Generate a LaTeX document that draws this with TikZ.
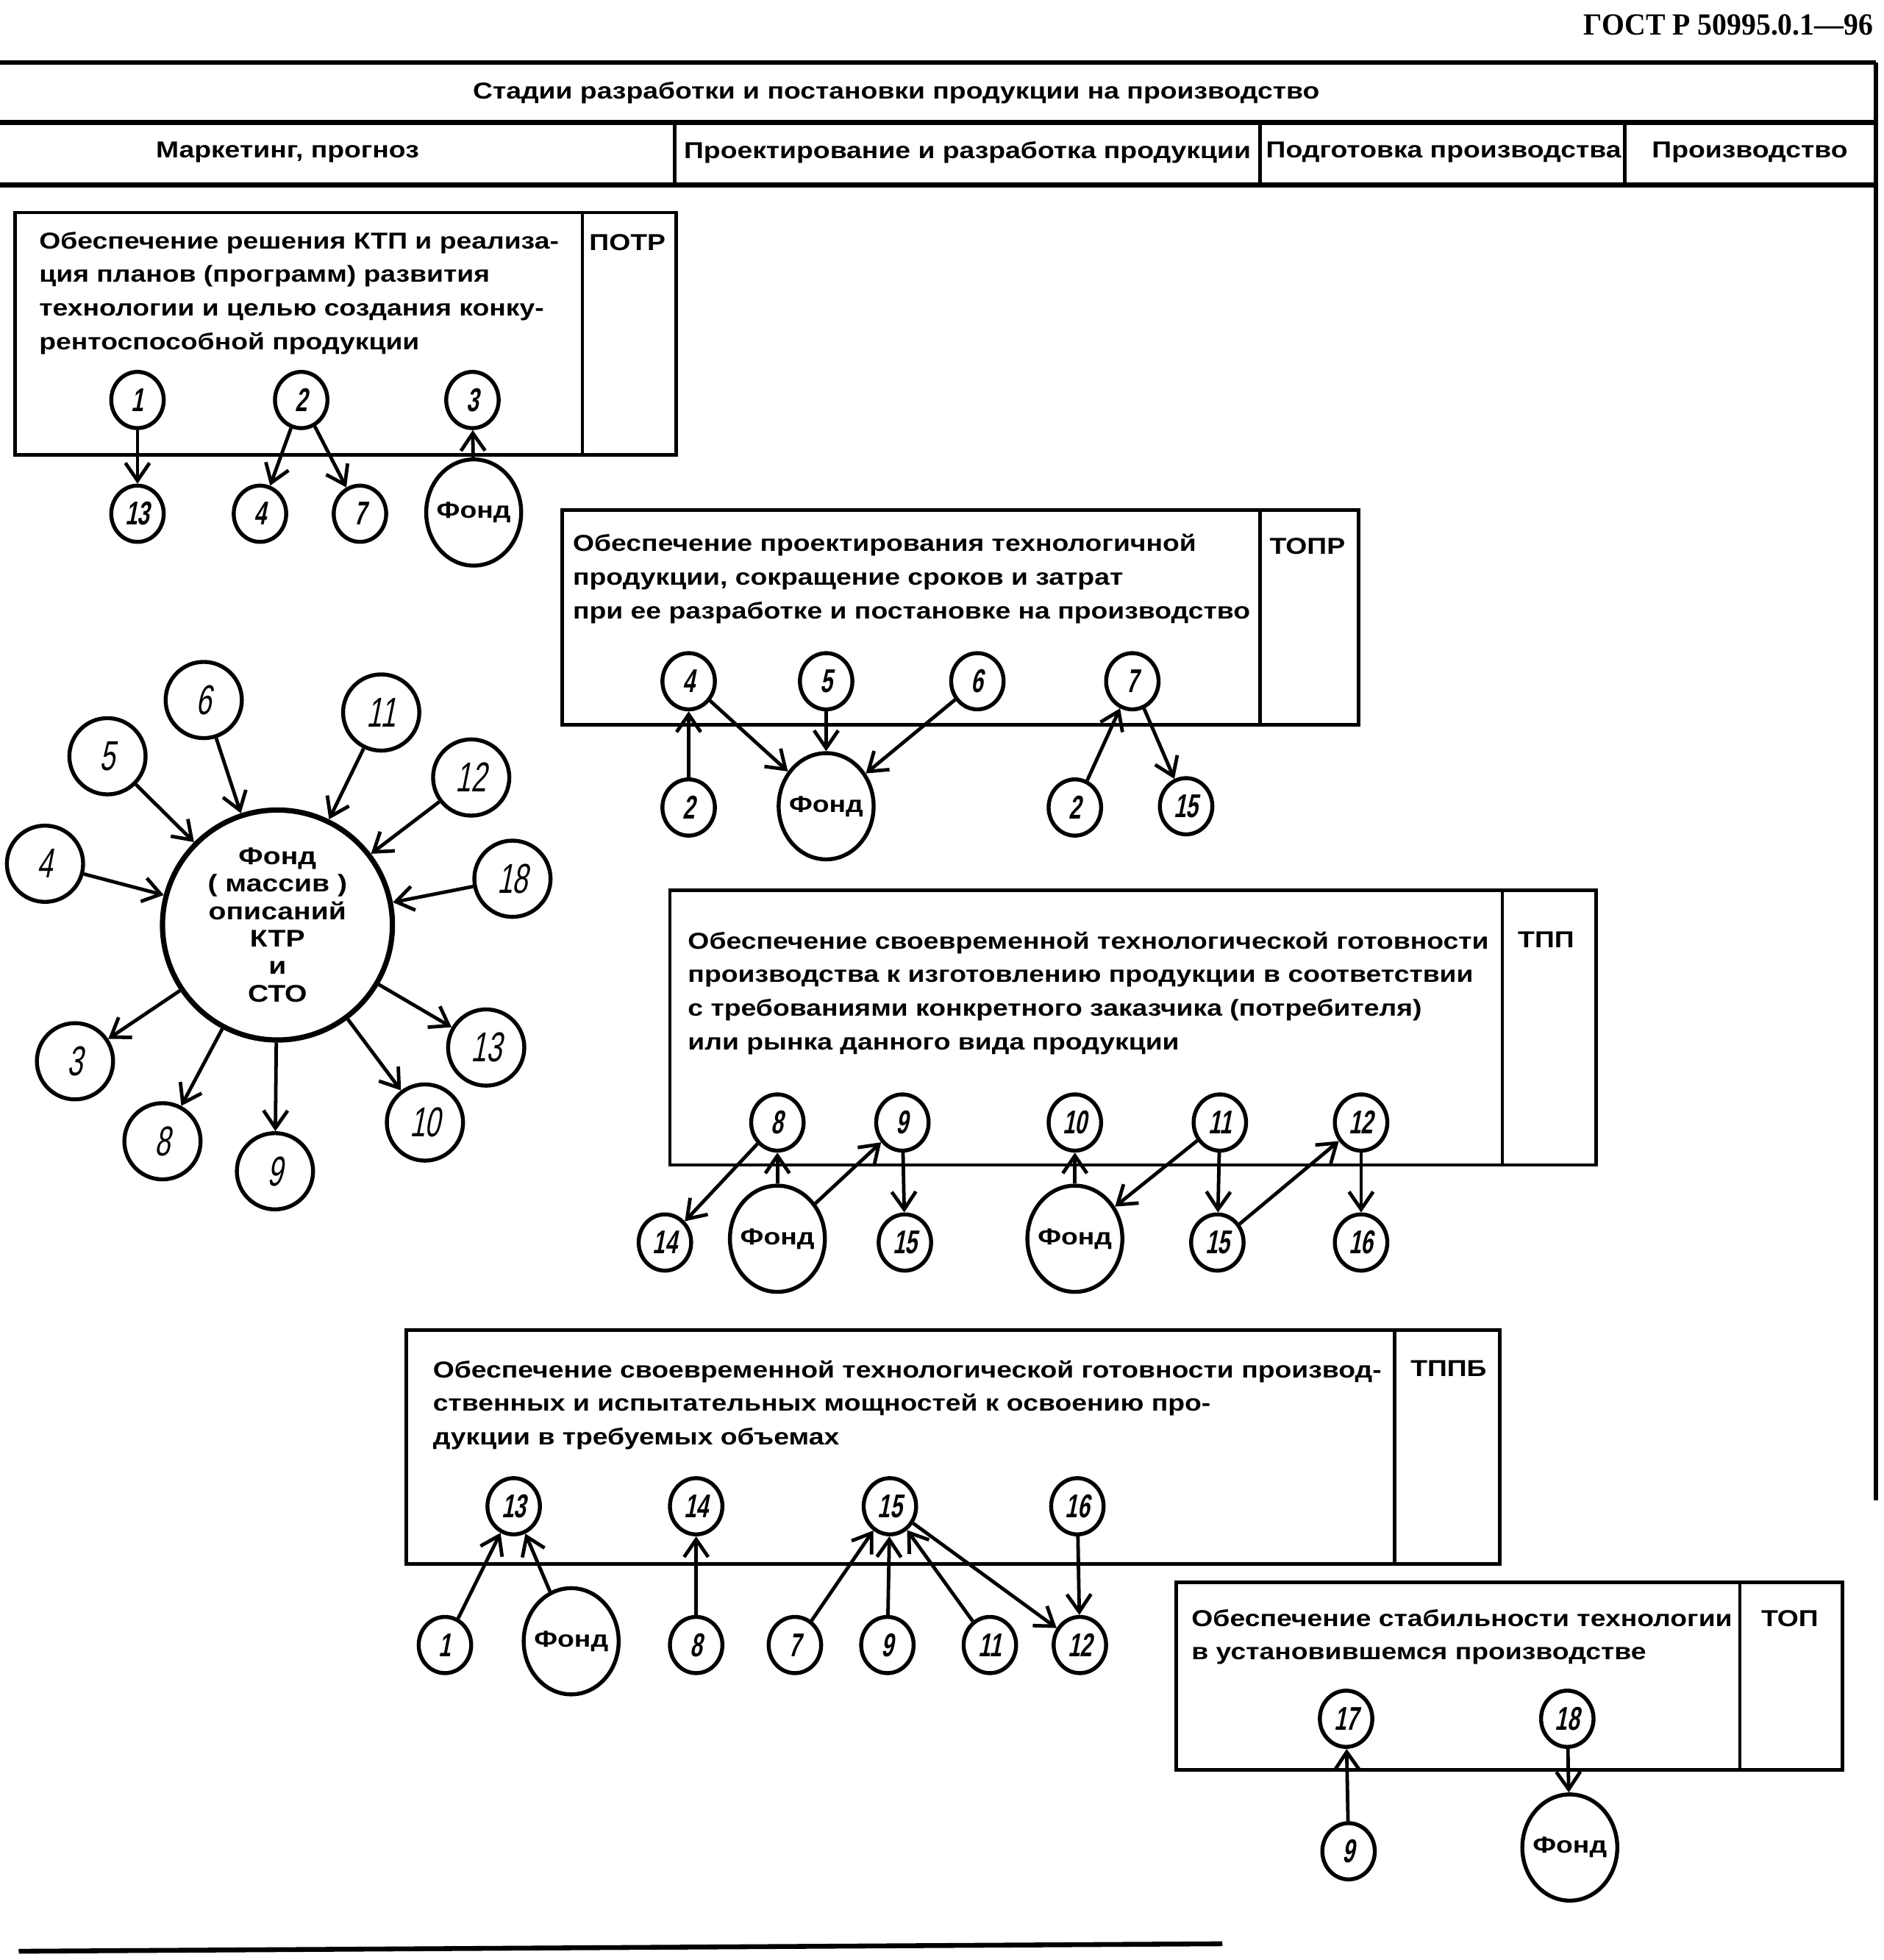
\documentclass[tikz,border=0pt]{standalone}
\usepackage{fontspec}
\setmainfont[FakeStretch=1.19]{Liberation Sans}
\newfontfamily\numfont[FakeStretch=0.66,FakeSlant=0.2]{Liberation Sans}
\newfontfamily\gostfont[FakeStretch=0.95]{Liberation Serif}
\usetikzlibrary{arrows.meta,shapes.geometric}
\begin{document}
\begin{tikzpicture}[x=0.02cm,y=-0.02cm,line width=1.6pt,
  every node/.style={inner sep=0pt},
  txt/.style={anchor=north west,align=left,font=\bfseries\fontsize{10.5}{15.3}\selectfont},
  tag/.style={font=\bfseries\fontsize{10.5}{12}\selectfont},
  head/.style={font=\bfseries\fontsize{10.5}{12}\selectfont},
  num/.style={ellipse,draw,fill=white,line width=1.8pt,minimum width=0.84cm,minimum height=0.9cm,font=\numfont\bfseries\fontsize{15}{15}\selectfont},
  sat/.style={circle,draw,fill=white,line width=1.8pt,minimum size=1.22cm,font=\numfont\fontsize{19}{19}\selectfont},
  fond/.style={ellipse,draw,fill=white,line width=1.8pt,inner xsep=-1.6pt,minimum width=1.52cm,minimum height=1.7cm,font=\bfseries\fontsize{10.5}{12}\selectfont},
  arr/.style={-{Straight Barb[length=8pt,width=11pt]}},
  frame/.style={line width=2.2pt}]
\useasboundingbox (0,0) rectangle (1507,1568);
\node[font=\gostfont\bfseries\fontsize{14}{14}\selectfont,anchor=east] (gost) at (1500,20) {ГОСТ Р 50995.0.1—96};
\draw[frame] (0,50) -- (1501,50) (0,98) -- (1501,98) (0,148) -- (1501,148);
\draw[frame] (1501,50) -- (1501,1200);
\draw (540,98) -- (540,148) (1008,98) -- (1008,148) (1300,98) -- (1300,148);
\node[head] (hd0) at (717,74) {Стадии разработки и постановки продукции на производство};
\node[head] (hd1) at (230,122) {Маркетинг, прогноз};
\node[head] (hd2) at (774,122) {Проектирование и разработка продукции};
\node[head] (hd3) at (1155,122) {Подготовка производства};
\node[head] (hd4) at (1400,122) {Производство};

\draw (12,170) rectangle (541,364) (466,170) -- (466,364);
\node[txt] (t1) at (30,184) {Обеспечение решения КТП и реализа-\\ция планов (программ) развития\\технологии и целью создания конку-\\рентоспособной продукции};
\node[tag] (g1) at (502,194) {ПОТР};
\node[num] (a1) at (110,320) {1};
\node[num] (a2) at (241,320) {2};
\node[num] (a3) at (378,320) {3};
\node[num] (a13) at (110,411) {13};
\node[num] (a4) at (208,411) {4};
\node[num] (a7) at (288,411) {7};
\node[fond] (af) at (379,410) {Фонд};
\draw[arr] (a1) -- (a13);
\draw[arr] (a2) -- (a4);
\draw[arr] (a2) -- (a7);
\draw[arr] (af) -- (a3);

\draw (450,408) rectangle (1087,580) (1008,408) -- (1008,580);
\node[txt] (t2) at (457,426) {Обеспечение проектирования технологичной\\продукции,  сокращение сроков и затрат\\при ее разработке и постановке на производство};
\node[tag] (g2) at (1046,437) {ТОПР};
\node[num] (b4) at (551,545) {4};
\node[num] (b5) at (661,545) {5};
\node[num] (b6) at (782,545) {6};
\node[num] (b7) at (906,545) {7};
\node[num] (b2) at (551,646) {2};
\node[fond] (bf) at (661,645) {Фонд};
\node[num] (c2) at (860,646) {2};
\node[num] (b15) at (949,645) {15};
\draw[arr] (b2) -- (b4);
\draw[arr] (b4) -- (bf);
\draw[arr] (b5) -- (bf);
\draw[arr] (b6) -- (bf);
\draw[arr] (c2) -- (b7);
\draw[arr] (b7) -- (b15);

\node[circle,draw,fill=white,line width=2.4pt,minimum size=3.68cm,align=center,font=\bfseries\fontsize{11}{12.5}\selectfont] (F) at (222,740) {Фонд\\( массив )\\описаний\\КТР\\и\\СТО};
\node[sat] (s4) at (36,691) {4};
\node[sat] (s5) at (86,605) {5};
\node[sat] (s6) at (163,560) {6};
\node[sat] (s11) at (305,570) {11};
\node[sat] (s12) at (377,622) {12};
\node[sat] (s18) at (410,703) {18};
\node[sat] (s13) at (389,838) {13};
\node[sat] (s10) at (340,898) {10};
\node[sat] (s9) at (220,937) {9};
\node[sat] (s8) at (130,913) {8};
\node[sat] (s3) at (60,849) {3};
\draw[arr] (s4) -- (F);
\draw[arr] (s5) -- (F);
\draw[arr] (s6) -- (F);
\draw[arr] (s11) -- (F);
\draw[arr] (s12) -- (F);
\draw[arr] (s18) -- (F);
\draw[arr] (F) -- (s13);
\draw[arr] (F) -- (s10);
\draw[arr] (F) -- (s9);
\draw[arr] (F) -- (s8);
\draw[arr] (F) -- (s3);

\draw (536,712) rectangle (1277,932) (1202,712) -- (1202,932);
\node[txt] (t3) at (549,744) {Обеспечение своевременной технологической готовности\\производства к изготовлению продукции в соответствии\\с требованиями конкретного заказчика (потребителя)\\или рынка данного вида продукции};
\node[tag] (g3) at (1237,752) {ТПП};
\node[num] (c8) at (622,898) {8};
\node[num] (c9) at (722,898) {9};
\node[num] (c10) at (860,898) {10};
\node[num] (c11) at (976,898) {11};
\node[num] (c12) at (1089,898) {12};
\node[num] (c14) at (532,994) {14};
\node[fond] (cf1) at (622,991) {Фонд};
\node[num] (c15) at (724,994) {15};
\node[fond] (cf2) at (860,991) {Фонд};
\node[num] (d15) at (974,994) {15};
\node[num] (c16) at (1089,994) {16};
\draw[arr] (c8) -- (c14);
\draw[arr] (cf1) -- (c8);
\draw[arr] (cf1) -- (c9);
\draw[arr] (c9) -- (c15);
\draw[arr] (cf2) -- (c10);
\draw[arr] (c11) -- (cf2);
\draw[arr] (c11) -- (d15);
\draw[arr] (d15) -- (c12);
\draw[arr] (c12) -- (c16);

\draw (325,1064) rectangle (1200,1251) (1116,1064) -- (1116,1251);
\node[txt] (t4) at (345,1087) {Обеспечение своевременной технологической готовности производ-\\ственных и испытательных мощностей к освоению про-\\дукции в требуемых объемах};
\node[tag] (g4) at (1159,1095) {ТППБ};
\node[num] (e13) at (411,1205) {13};
\node[num] (e14) at (557,1205) {14};
\node[num] (e15) at (712,1205) {15};
\node[num] (e16) at (862,1205) {16};
\node[num] (e1) at (356,1316) {1};
\node[fond] (ef) at (457,1313) {Фонд};
\node[num] (e8) at (557,1316) {8};
\node[num] (e7) at (636,1316) {7};
\node[num] (e9) at (710,1316) {9};
\node[num] (e11) at (792,1316) {11};
\node[num] (e12) at (864,1316) {12};
\draw[arr] (e1) -- (e13);
\draw[arr] (ef) -- (e13);
\draw[arr] (e8) -- (e14);
\draw[arr] (e7) -- (e15);
\draw[arr] (e9) -- (e15);
\draw[arr] (e11) -- (e15);
\draw[arr] (e15) -- (e12);
\draw[arr] (e16) -- (e12);

\draw (941,1266) rectangle (1474,1416) (1392,1266) -- (1392,1416);
\node[txt] (t5) at (952,1286) {Обеспечение стабильности технологии\\в установившемся производстве};
\node[tag] (g5) at (1432,1295) {ТОП};
\node[num] (p17) at (1077,1375) {17};
\node[num] (p18) at (1254,1375) {18};
\node[num] (p9) at (1079,1481) {9};
\node[fond] (pf) at (1256,1478) {Фонд};
\draw[arr] (p9) -- (p17);
\draw[arr] (p18) -- (pf);

\draw[frame] (15,1561) -- (978,1555);
\end{tikzpicture}
\end{document}
